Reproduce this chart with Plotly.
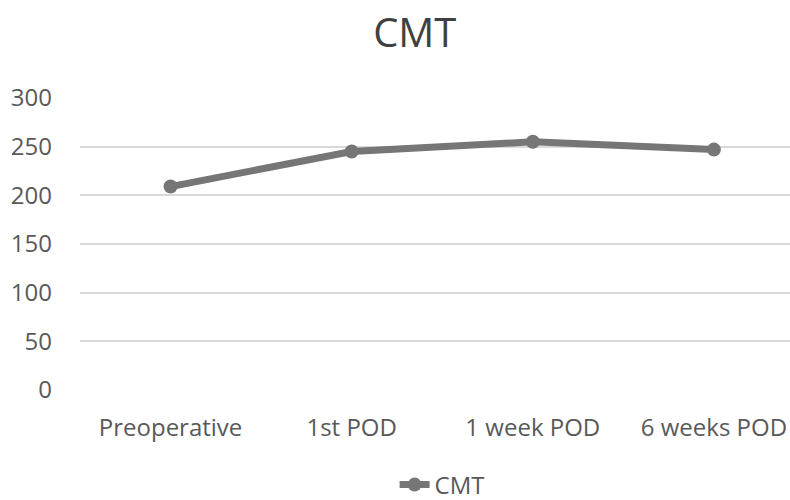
import plotly.graph_objects as go

categories = ["Preoperative", "1st POD", "1 week POD", "6 weeks POD"]
cmt_values = [209, 245, 255, 247]
y_ticks = [0, 50, 100, 150, 200, 250, 300]

text_color = "#595959"
line_color = "#767676"
font_family = "Open Sans, Lato, sans-serif"

fig = go.Figure()
fig.add_trace(go.Scatter(
    x=categories,
    y=cmt_values,
    mode="lines+markers",
    name="CMT",
    line=dict(color=line_color, width=7),
    marker=dict(color=line_color, size=14),
))

fig.update_layout(
    width=790,
    height=500,
    paper_bgcolor="white",
    plot_bgcolor="white",
    margin=dict(l=80, r=0, t=98, b=110, autoexpand=False),
    font=dict(family=font_family, color=text_color),
    title=dict(
        text="CMT",
        x=0.525,
        xanchor="center",
        y=0.935,
        yanchor="middle",
        yref="container",
        font=dict(size=40, color="#404040", family=font_family),
    ),
    showlegend=True,
    legend=dict(
        orientation="h",
        x=0.51,
        xanchor="center",
        y=0.03,
        yref="container",
        yanchor="middle",
        font=dict(size=24, color=text_color),
    ),
    xaxis=dict(
        type="category",
        range=[-0.5, 3.42],
        showgrid=False,
        showline=False,
        zeroline=False,
        ticks="",
        tickfont=dict(size=24, color=text_color),
        ticklabelstandoff=21,
    ),
    yaxis=dict(
        range=[0, 300],
        tickvals=y_ticks,
        showgrid=True,
        gridcolor="#d9d9d9",
        gridwidth=2,
        zeroline=False,
        showline=False,
        ticks="",
        tickfont=dict(size=24, color=text_color),
        ticklabelstandoff=27,
    ),
)

fig.write_html("out.html")
